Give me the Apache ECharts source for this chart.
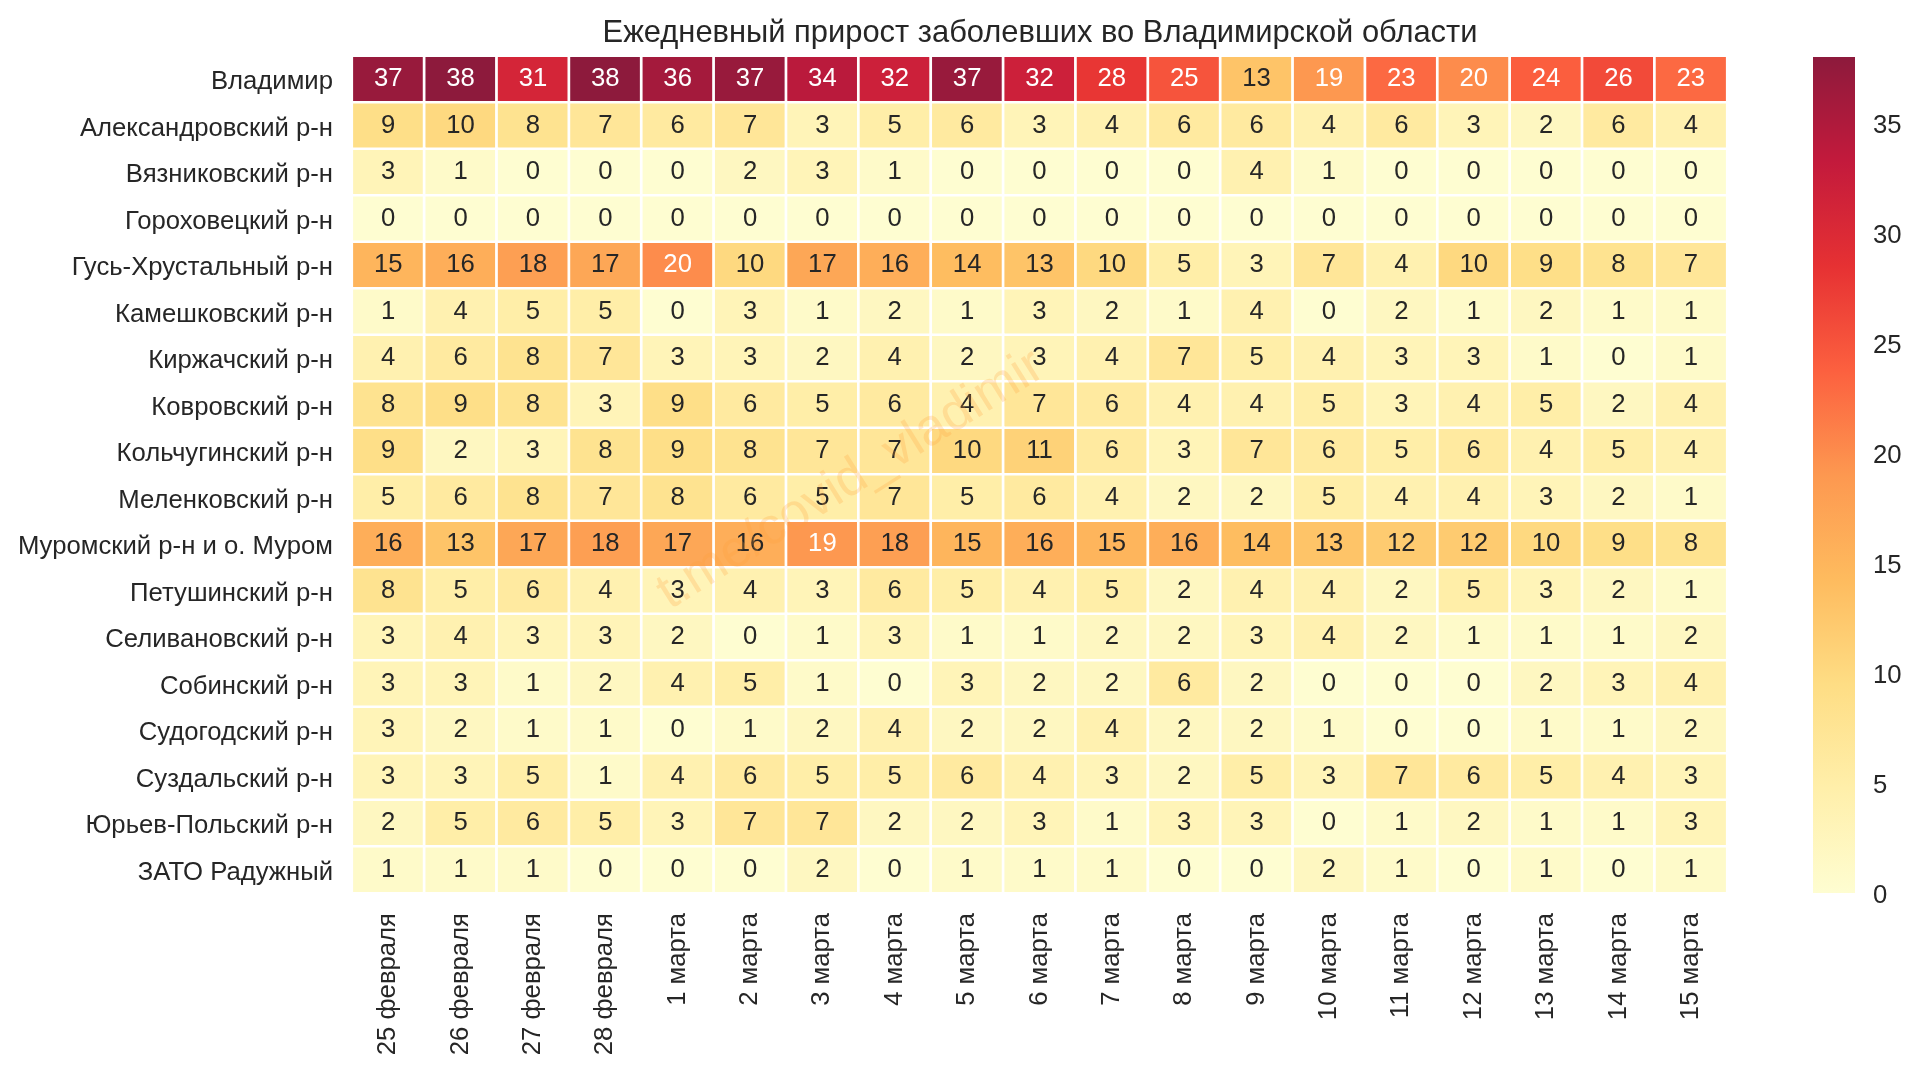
<!DOCTYPE html>
<html>
<head>
<meta charset="utf-8">
<style>
  html, body { margin: 0; padding: 0; background: #fff; }
  #chart { width: 1920px; height: 1073px; }
</style>
<script src="https://cdn.jsdelivr.net/npm/echarts@6/dist/echarts.min.js"></script>
</head>
<body>
<div id="chart"></div>
<script>
var days = ['25 февраля', '26 февраля', '27 февраля', '28 февраля', '1 марта', '2 марта', '3 марта', '4 марта', '5 марта', '6 марта', '7 марта', '8 марта', '9 марта', '10 марта', '11 марта', '12 марта', '13 марта', '14 марта', '15 марта'];
var districts = ['Владимир', 'Александровский р-н', 'Вязниковский р-н', 'Гороховецкий р-н', 'Гусь-Хрустальный р-н', 'Камешковский р-н', 'Киржачский р-н', 'Ковровский р-н', 'Кольчугинский р-н', 'Меленковский р-н', 'Муромский р-н и о. Муром', 'Петушинский р-н', 'Селивановский р-н', 'Собинский р-н', 'Судогодский р-н', 'Суздальский р-н', 'Юрьев-Польский р-н', 'ЗАТО Радужный'];

var vladimir = [37, 38, 31, 38, 36, 37, 34, 32, 37, 32, 28, 25, 13, 19, 23, 20, 24, 26, 23];
var aleksandrov = [9, 10, 8, 7, 6, 7, 3, 5, 6, 3, 4, 6, 6, 4, 6, 3, 2, 6, 4];
var vyazniki = [3, 1, 0, 0, 0, 2, 3, 1, 0, 0, 0, 0, 4, 1, 0, 0, 0, 0, 0];
var gorokhovets = [0, 0, 0, 0, 0, 0, 0, 0, 0, 0, 0, 0, 0, 0, 0, 0, 0, 0, 0];
var gus = [15, 16, 18, 17, 20, 10, 17, 16, 14, 13, 10, 5, 3, 7, 4, 10, 9, 8, 7];
var kameshkovo = [1, 4, 5, 5, 0, 3, 1, 2, 1, 3, 2, 1, 4, 0, 2, 1, 2, 1, 1];
var kirzhach = [4, 6, 8, 7, 3, 3, 2, 4, 2, 3, 4, 7, 5, 4, 3, 3, 1, 0, 1];
var kovrov = [8, 9, 8, 3, 9, 6, 5, 6, 4, 7, 6, 4, 4, 5, 3, 4, 5, 2, 4];
var kolchugino = [9, 2, 3, 8, 9, 8, 7, 7, 10, 11, 6, 3, 7, 6, 5, 6, 4, 5, 4];
var melenki = [5, 6, 8, 7, 8, 6, 5, 7, 5, 6, 4, 2, 2, 5, 4, 4, 3, 2, 1];
var murom = [16, 13, 17, 18, 17, 16, 19, 18, 15, 16, 15, 16, 14, 13, 12, 12, 10, 9, 8];
var petushki = [8, 5, 6, 4, 3, 4, 3, 6, 5, 4, 5, 2, 4, 4, 2, 5, 3, 2, 1];
var selivanovo = [3, 4, 3, 3, 2, 0, 1, 3, 1, 1, 2, 2, 3, 4, 2, 1, 1, 1, 2];
var sobinka = [3, 3, 1, 2, 4, 5, 1, 0, 3, 2, 2, 6, 2, 0, 0, 0, 2, 3, 4];
var sudogda = [3, 2, 1, 1, 0, 1, 2, 4, 2, 2, 4, 2, 2, 1, 0, 0, 1, 1, 2];
var suzdal = [3, 3, 5, 1, 4, 6, 5, 5, 6, 4, 3, 2, 5, 3, 7, 6, 5, 4, 3];
var yuryev = [2, 5, 6, 5, 3, 7, 7, 2, 2, 3, 1, 3, 3, 0, 1, 2, 1, 1, 3];
var raduzhny = [1, 1, 1, 0, 0, 0, 2, 0, 1, 1, 1, 0, 0, 2, 1, 0, 1, 0, 1];

var rows = [vladimir, aleksandrov, vyazniki, gorokhovets, gus, kameshkovo, kirzhach, kovrov, kolchugino, melenki, murom, petushki, selivanovo, sobinka, sudogda, suzdal, yuryev, raduzhny];
var scaleMax = [38];

var FONT = '"Liberation Sans", Arial, sans-serif';
var TEXT = '#262626';
// YlOrRd at alpha 0.9 on white
var palette = ['#fefdd1', '#ffefaa', '#fedd84', '#febb5e', '#fd9850', '#fc603f', '#e63133', '#c31a3c', '#8d1a3c'];

var cells = [];
rows.forEach(function(row, y) {
  row.forEach(function(v, x) {
    cells.push({
      value: [x, y, v],
      label: { color: v >= 19 ? '#ffffff' : TEXT }
    });
  });
});

// colorbar is a single bar from 0 to max with the same ramp
var barStops = palette.map(function(c, i) {
  return { offset: i / (palette.length - 1), color: c };
});

var chart = echarts.init(document.getElementById('chart'));
chart.setOption({
  animation: false,
  backgroundColor: '#fff',
  title: {
    text: 'Ежедневный прирост заболевших во Владимирской области',
    left: 1035,
    top: 13,
    textAlign: 'center',
    textStyle: { fontFamily: FONT, fontSize: 30.9, fontWeight: 'normal', color: TEXT }
  },
  grid: [
    { left: 352, top: 56, width: 1375, height: 837 },
    { left: 1813, top: 57, width: 42, height: 836 }
  ],
  xAxis: [{
    type: 'category',
    data: days,
    gridIndex: 0,
    position: 'bottom',
    axisLine: { show: false },
    axisTick: { show: false },
    axisLabel: { interval: 0, rotate: 90, margin: 20, fontFamily: FONT, fontSize: 25.7, color: TEXT }
  }, {
    type: 'category',
    data: [''],
    gridIndex: 1,
    show: false
  }],
  yAxis: [{
    type: 'category',
    data: districts,
    gridIndex: 0,
    inverse: true,
    axisLine: { show: false },
    axisTick: { show: false },
    axisLabel: { interval: 0, margin: 19, verticalAlign: 'top', lineHeight: 6, fontFamily: FONT, fontSize: 25.7, color: TEXT }
  }, {
    type: 'value',
    gridIndex: 1,
    position: 'right',
    min: 0,
    max: scaleMax[0],
    interval: 5,
    splitLine: { show: false },
    axisLine: { show: false },
    axisTick: { show: false },
    axisLabel: { margin: 18, verticalAlign: 'top', lineHeight: 6, showMaxLabel: false, fontFamily: FONT, fontSize: 25.7, color: TEXT }
  }],
  visualMap: {
    type: 'continuous',
    show: false,
    min: 0,
    max: scaleMax[0],
    seriesIndex: 0,
    inRange: { color: palette }
  },
  series: [{
    type: 'heatmap',
    xAxisIndex: 0,
    yAxisIndex: 0,
    data: cells,
    itemStyle: { borderColor: '#ffffff', borderWidth: 2.7 },
    label: { show: true, fontFamily: FONT, fontSize: 25.7, formatter: function(p) { return p.value[2]; } }
  }, {
    type: 'bar',
    xAxisIndex: 1,
    yAxisIndex: 1,
    data: scaleMax,
    barWidth: '100%',
    silent: true,
    itemStyle: { color: new echarts.graphic.LinearGradient(0, 1, 0, 0, barStops) }
  }],
  graphic: [{
    type: 'text',
    x: 851,
    y: 480,
    rotation: 32 * Math.PI / 180,
    z: 50,
    silent: true,
    style: {
      text: 't.me/covid_vladimir',
      fontFamily: FONT,
      fontSize: 52,
      fill: 'rgba(253,160,60,0.24)',
      align: 'center',
      verticalAlign: 'middle'
    }
  }]
});
</script>
</body>
</html>
